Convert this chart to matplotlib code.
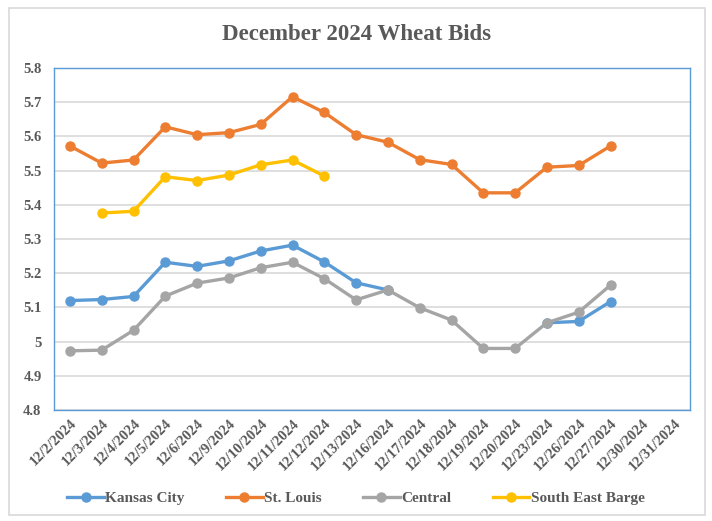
import numpy as np
import matplotlib.pyplot as plt
from matplotlib.patches import Rectangle

nan = np.nan

dates = ["12/2/2024", "12/3/2024", "12/4/2024", "12/5/2024", "12/6/2024",
         "12/9/2024", "12/10/2024", "12/11/2024", "12/12/2024", "12/13/2024",
         "12/16/2024", "12/17/2024", "12/18/2024", "12/19/2024", "12/20/2024",
         "12/23/2024", "12/26/2024", "12/27/2024", "12/30/2024", "12/31/2024"]

kansas_city = [5.120, 5.123, 5.132, 5.232, 5.220, 5.236, 5.265, 5.282, 5.233, 5.172,
               5.151, nan, nan, nan, nan, 5.055, 5.059, 5.117, nan, nan]
st_louis = [5.572, 5.522, 5.531, 5.628, 5.605, 5.611, 5.635, 5.716, 5.670, 5.605,
            5.583, 5.532, 5.518, 5.435, 5.435, 5.510, 5.515, 5.572, nan, nan]
central = [4.973, 4.975, 5.033, 5.133, 5.171, 5.186, 5.216, 5.232, 5.184, 5.122,
           5.151, 5.099, 5.063, 4.980, 4.980, 5.055, 5.086, 5.165, nan, nan]
south_east_barge = [nan, 5.376, 5.381, 5.482, 5.471, 5.487, 5.517, 5.531, 5.484, nan,
                    nan, nan, nan, nan, nan, nan, nan, nan, nan, nan]

series = [
    ("Kansas City", kansas_city, "#5B9BD5"),
    ("St. Louis", st_louis, "#ED7D31"),
    ("Central", central, "#A5A5A5"),
    ("South East Barge", south_east_barge, "#FFC000"),
]

plt.rcParams["font.family"] = ["Liberation Serif", "DejaVu Serif"]
plt.rcParams["font.weight"] = "bold"
text_color = "#595959"

fig = plt.figure(figsize=(7.12, 5.21), dpi=100)
# outer chart border
fig.patches.append(Rectangle((9 / 712, 6 / 521), 696 / 712, 507 / 521,
                             transform=fig.transFigure, fill=False,
                             edgecolor="#D9D9D9", linewidth=1.2))

ax = fig.add_axes([54 / 712, 1 - 410 / 521, 636 / 712, 342 / 521])
x = np.arange(len(dates))
for name, vals, color in series:
    ax.plot(x, vals, color=color, linewidth=2.4, marker="o", markersize=6.5,
            label=name)

ax.set_xlim(-0.5, len(dates) - 0.5)
ax.set_ylim(4.8, 5.8)
ax.set_yticks(np.arange(4.8, 5.81, 0.1))
ax.set_yticklabels(["4.8", "4.9", "5", "5.1", "5.2", "5.3", "5.4", "5.5",
                    "5.6", "5.7", "5.8"])
ax.set_xticks(x)
ax.set_xticklabels(dates, rotation=45, ha="right", rotation_mode="anchor")
ax.tick_params(axis="both", length=0, labelsize=10.5, colors=text_color)
ax.tick_params(axis="y", pad=9)
ax.tick_params(axis="x", pad=5)
ax.grid(axis="y", color="#D9D9D9", linewidth=1.2)
ax.set_axisbelow(True)
for sp in ax.spines.values():
    sp.set_color("#5B9BD5")
    sp.set_linewidth(1.0)

fig.suptitle("December 2024 Wheat Bids", y=1 - 34 / 521, va="center",
             fontsize=16.5, fontweight="bold", color=text_color)

fig.legend(loc="center", bbox_to_anchor=(0.5, 1 - 498 / 521), ncol=4,
           frameon=False, fontsize=11, labelcolor=text_color,
           handlelength=2.4, handletextpad=0.1, columnspacing=2.7)

fig.savefig("out.png", dpi=100)
